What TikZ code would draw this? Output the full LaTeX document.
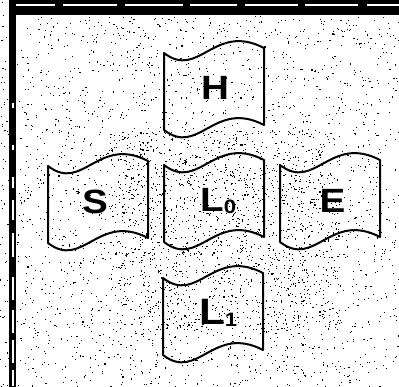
\documentclass[tikz,border=0pt]{standalone}
\usepackage{fontspec}
\setmainfont{Liberation Sans}
\newcommand\flagtxt[1]{\scalebox{1.17}[1.02]{#1}}
\newcommand\subdig[1]{\raisebox{-1.5pt}{\fontsize{19}{19}\selectfont #1}}
\begin{document}
\begin{tikzpicture}[x=1pt,y=-1pt,
  flagline/.style={line width=2pt, line join=round},
  letter/.style={font=\bfseries\fontsize{33}{33}\selectfont, inner sep=0pt},
  speck/.style={fill=black},
  flag/.pic={\draw[flagline] (0,0) .. controls (35,27) and (50,-31) .. (100,-5)
      -- (100,72) .. controls (50,46) and (35,104) .. (0,77) -- cycle;}]
\useasboundingbox (0,0) rectangle (399,387);
\fill[white] (0,0) rectangle (399,387);
% scan speckle
\pgfmathsetseed{7}
\foreach \i in {1,...,2400} {\fill[speck] ({17+382*rnd},{16+371*rnd}) rectangle ++(1.1,1.1);}
\foreach \i in {1,...,1300} {\fill[speck] ({110+230*rnd},{130+200*rnd}) rectangle ++(1.1,1.1);}
\foreach \i in {1,...,60} {\fill[speck] ({8*rnd},{387*rnd}) rectangle ++(1.1,1.1);}
% top band with white dashes
\fill[black] (9,0) rectangle (399,15);
\foreach \a/\b in {10/55, 63/117, 125/183, 190/237, 245/298, 305/358, 367/399}
  {\fill[white] (\a,4) rectangle (\b,5.6);}
% left band with white marks
\fill[black] (9,0) rectangle (16,387);
\foreach \a/\b in {103/108, 145/150, 177/188, 200/220, 233/257, 277/300, 310/333, 340/363, 370/386}
  {\fill[white] (11.5,\a) rectangle (13.5,\b);}
% flags
\pic at (164,53) {flag};
\pic at (48,166) {flag};
\pic at (164,165) {flag};
\pic at (280,165) {flag};
\pic at (163,278) {flag};
% letters
\node[letter, anchor=base] (H) at (215,100) {\flagtxt{H}};
\node[letter, anchor=base] (S) at (95,214) {\flagtxt{S}};
\node[letter, anchor=base] (E) at (332.5,213) {\flagtxt{E}};
\node[letter, anchor=base west] (L0) at (200,212) {\flagtxt{L\subdig{0}}};
\node[letter, font=\bfseries\fontsize{36}{36}\selectfont, anchor=base west] (L1) at (199,325) {\flagtxt{L\subdig{1}}};
\end{tikzpicture}
\end{document}
